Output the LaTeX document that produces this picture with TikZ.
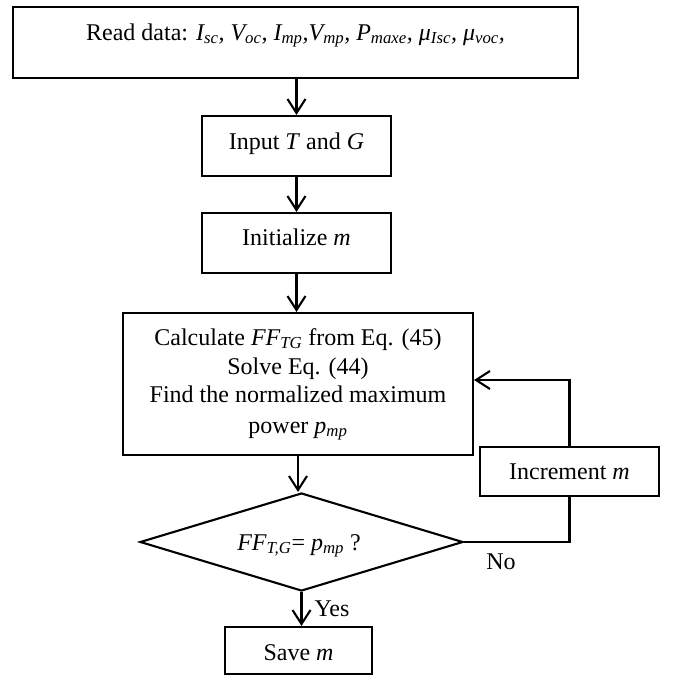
\documentclass[tikz,border=0pt]{standalone}
\usepackage{fontspec}
\setmainfont{Liberation Serif}
\usetikzlibrary{arrows.meta,shapes.geometric}
\newcommand{\vs}[2]{\textit{#1\textsubscript{#2}}}
\begin{document}
\begin{tikzpicture}[x=1pt,y=-1pt,
  boxst/.style={draw,line width=2.1pt,inner sep=0pt},
  txt/.style={anchor=base,inner sep=0pt,font=\fontsize{24}{28}\selectfont},
  arr/.style={line width=2.1pt,-{Straight Barb[length=14pt,width=18pt,line width=2.1pt]}},
  ln/.style={line width=2.1pt}
]
\useasboundingbox (0,0) rectangle (676,678);
% boxes
\node[boxst,minimum width=565pt,minimum height=71pt] (top) at (295.5,42.5) {};
\node[boxst,minimum width=189pt,minimum height=60pt] (input) at (296.5,146) {};
\node[boxst,minimum width=189pt,minimum height=60pt] (init) at (296.5,243) {};
\node[boxst,minimum width=350pt,minimum height=142pt] (calc) at (298,384) {};
\node[boxst,shape=diamond,aspect=3.3,minimum width=323pt,minimum height=98pt] (dia) at (301.5,542) {};
\node[boxst,minimum width=179pt,minimum height=49pt] (inc) at (569.5,471.5) {};
\node[boxst,minimum width=147pt,minimum height=47pt] (save) at (298.5,650.5) {};
% texts
\node[txt] (ttop) at (295.5,40) {Read data: \vs{I}{sc}\textit{,} \vs{V}{oc}\textit{,} \vs{I}{mp}\textit{,}\vs{V}{mp}\textit{,} \vs{P}{maxe}\textit{,} \vs{μ}{Isc}\textit{,} \vs{μ}{voc}\textit{,}};
\node[txt] (tinput) at (296.5,149) {Input \textit{T} and \textit{G}};
\node[txt] (tinit) at (296.5,245) {Initialize \textit{m}};
\node[txt] (tc1) at (298,345) {Calculate \vs{FF}{TG} from Eq. (45)};
\node[txt] (tc2) at (298,374) {Solve Eq. (44)};
\node[txt] (tc3) at (298,402) {Find the normalized maximum};
\node[txt] (tc4) at (298,433) {power \vs{p}{mp}};
\node[txt] (tdia) at (299,550) {\vs{FF}{T,G}= \vs{p}{mp} ?};
\node[txt] (tinc) at (569.5,479) {Increment \textit{m}};
\node[txt] (tsave) at (298.5,660) {Save \textit{m}};
\node[txt] (tno) at (501,569) {No};
\node[txt] (tyes) at (332,616) {Yes};
% connectors
\draw[arr] (top.south -| input.north) -- (input.north);
\draw[arr] (input.south) -- (init.north);
\draw[arr] (init.south) -- (init.south |- calc.north);
\draw[arr] (calc.south) -- (calc.south |- dia.north);
\draw[arr] (dia.south) -- (dia.south |- save.north);
\draw[ln] (dia.east) -| (inc.south);
\draw[arr] (inc.north) |- ([yshift=4pt]calc.east);
\end{tikzpicture}
\end{document}
